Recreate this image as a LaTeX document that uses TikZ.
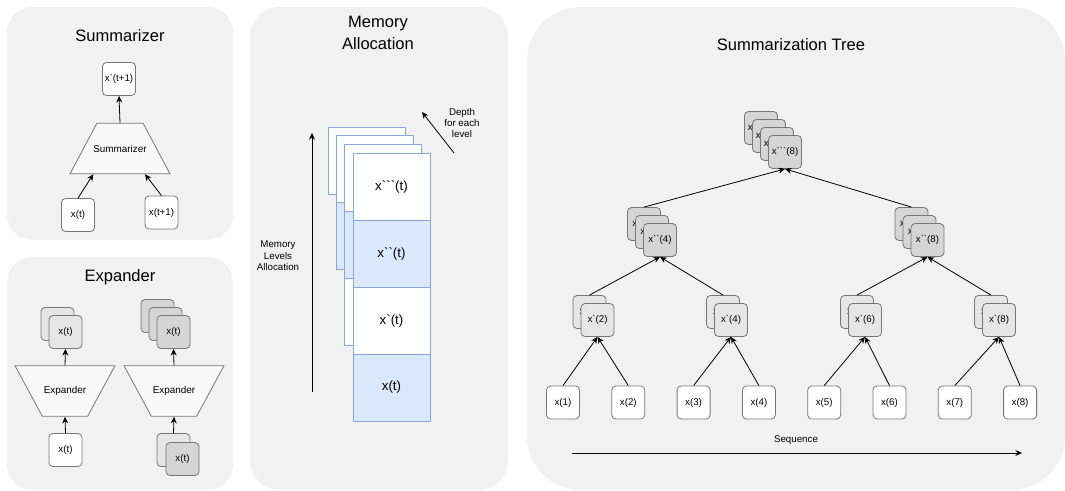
\documentclass[tikz,border=0pt]{standalone}
\usepackage{fontspec}
\newfontfamily\drawfont{Liberation Sans}
\usetikzlibrary{positioning, shapes.geometric, arrows.meta}
\definecolor{panel}{HTML}{F1F1F1}
\definecolor{boxline}{HTML}{777777}
\definecolor{lite}{HTML}{E6E6E6}
\definecolor{dark}{HTML}{D5D5D5}
\definecolor{memblue}{HTML}{DAE8FC}
\definecolor{memline}{HTML}{8AA6D6}

\tikzset{
  xbox/.style={draw=boxline, fill=white, line width=0.6pt, rounded corners=3pt,
    minimum width=24.75pt, minimum height=24.75pt, inner sep=0pt,
    font=\drawfont\fontsize{7.3}{8}\selectfont},
  litebox/.style={xbox, fill=lite},
  darkbox/.style={xbox, fill=dark},
  trap/.style={trapezium, draw=boxline, fill=white!60!panel, line width=0.6pt,
    trapezium stretches body, inner xsep=0pt, inner ysep=19pt,
    label={[font=\drawfont\fontsize{7.4}{8}\selectfont]center:#1}},
  arr/.style={-{Stealth[length=5pt,width=4.5pt]}, line width=0.6pt},
  title/.style={font=\drawfont\fontsize{12.4}{17}\selectfont, align=center},
  small/.style={font=\drawfont\fontsize{7.3}{8.6}\selectfont, align=center},
  cell/.style={draw=memline, line width=0.6pt, minimum width=57.75pt,
    minimum height=50.25pt, inner sep=0pt, font=\drawfont\fontsize{10}{12}\selectfont}
}

% stack of boxes: name, x, y of front box, offsets (back to front), style, front text, back text
\newcommand{\boxstack}[7]{%
  \foreach \i in {#4}{%
    \ifnum\i=0 \def\stacktext{#6}\else\def\stacktext{#7}\fi
    \node[#5] (#1-\i) at ({#2-8*\i},{#3-8*\i}) {\stacktext};
  }%
}

\begin{document}
\begin{tikzpicture}[x=0.75pt, y=-0.75pt]
\useasboundingbox (0,0) rectangle (1065,491);

% panels
\fill[panel, rounded corners=19pt] (7,7) rectangle (233,240);
\fill[panel, rounded corners=19pt] (7,257) rectangle (233,490);
\fill[panel, rounded corners=22pt] (250,7) rectangle (508,490);
\fill[panel, rounded corners=40pt] (527,7) rectangle (1065,490);

%% Summarizer
\node[title] (sum-title) at (120,36) {Summarizer};
\node[xbox] (sum-out) at (119,79) {x`(t+1)};
\node[trap=Summarizer, trapezium angle=62, minimum width=75pt] (sum-trap) at (120,148.5) {};
\node[xbox] (sum-a) at (78,215) {x(t)};
\node[xbox] (sum-b) at (161.5,212.5) {x(t+1)};
\draw[arr] (sum-trap.north) -- (sum-out.south);
\draw[arr] (sum-a.north) -- ([xshift=-20pt]sum-trap.south);
\draw[arr] (sum-b.north) -- ([xshift=18.75pt]sum-trap.south);

%% Expander
\node[title] (exp-title) at (120,277) {Expander};
\boxstack{exp-lo}{65.5}{332}{1,0}{litebox}{x(t)}{}
\boxstack{exp-ro}{173.5}{332}{2,1,0}{darkbox}{x(t)}{}
\node[trap=Expander, trapezium angle=118.4, minimum width=75pt] (exp-lt) at (65,391) {};
\node[trap=Expander, trapezium angle=118.4, minimum width=75pt] (exp-rt) at (174,391) {};
\node[xbox] (exp-li) at (65.5,450) {x(t)};
\node[litebox] (exp-ri-1) at (173.5,450) {};
\node[darkbox] (exp-ri-0) at (182.5,459) {x(t)};
\draw[arr] (exp-lt.north) -- (exp-lo-0.south);
\draw[arr] (exp-li.north) -- (exp-lt.south);
\draw[arr] (exp-rt.north) -- (exp-ro-0.south);
\draw[arr] (exp-ri-1.north) -- (exp-rt.south);

%% Memory Allocation
\node[title] (mem-title) at (378,33) {Memory\\Allocation};
\coordinate (lvl-start) at (312,392);
\coordinate (lvl-end) at (312,133);
\draw[arr] (lvl-start) -- (lvl-end);
\node[small] (lvl-label) at (278,256) {Memory\\Levels\\Allocation};
\coordinate (depth-start) at (454,153);
\coordinate (depth-end) at (422,112);
\draw[arr] (depth-start) -- (depth-end);
\node[small] (depth-label) at (462,123) {Depth\\for each\\level};
% hidden levels behind
\foreach \n/\lx/\ty in {1/328/127, 2/336/135, 3/344/144}{
  \foreach \k in {1,...,\n}{
    \ifodd\k \def\cellcol{white}\else\def\cellcol{memblue}\fi
    \draw[memline, line width=0.6pt, fill=\cellcol] (\lx,{\ty+67*(\k-1)}) rectangle ++(77,67);
  }
}
\node[cell, fill=white] (mem-3) at (391.5,186.5) {x```(t)};
\node[cell, fill=memblue] (mem-2) at (391.5,253.5) {x``(t)};
\node[cell, fill=white] (mem-1) at (391.5,320.5) {x`(t)};
\node[cell, fill=memblue] (mem-0) at (391.5,387.5) {x(t)};

%% Summarization Tree
\node[title] (tree-title) at (791,45) {Summarization Tree};
\foreach \i in {1,...,8}
  \node[xbox] (leaf\i) at ({563+65.3*(\i-1)},402.5) {x(\i)};
\foreach \j/\cx/\lab in {1/597.5/2, 2/731/4, 3/865/6, 4/999/8}{
  \boxstack{ta\j}{\cx}{320}{1,0}{litebox}{x`(\lab)}{x`(\lab)}
}
\boxstack{tb1}{660}{240}{2,1,0}{darkbox}{x``(4)}{x``(4)}
\boxstack{tb2}{927.5}{240}{2,1,0}{darkbox}{x``(8)}{x``(8)}
\boxstack{tc}{785}{152}{3,2,1,0}{darkbox}{x```(8)}{x```(8)}
\foreach \j in {1,...,4}{
  \pgfmathtruncatemacro\leafa{2*\j-1}
  \pgfmathtruncatemacro\leafb{2*\j}
  \draw[arr] (leaf\leafa.north) -- (ta\j-0.south);
  \draw[arr] (leaf\leafb.north) -- (ta\j-0.south);
}
\draw[arr] (ta1-1.north) -- (tb1-0.south);
\draw[arr] (ta2-1.north) -- (tb1-0.south);
\draw[arr] (ta3-1.north) -- (tb2-0.south);
\draw[arr] (ta4-1.north) -- (tb2-0.south);
\draw[arr] (tb1-2.north) -- (tc-0.south);
\draw[arr] (tb2-2.north) -- (tc-0.south);
\node[small] (seq-label) at (796,440) {Sequence};
\coordinate (seq-start) at (572,453);
\coordinate (seq-end) at (1022,453);
\draw[arr] (seq-start) -- (seq-end);
\end{tikzpicture}
\end{document}
